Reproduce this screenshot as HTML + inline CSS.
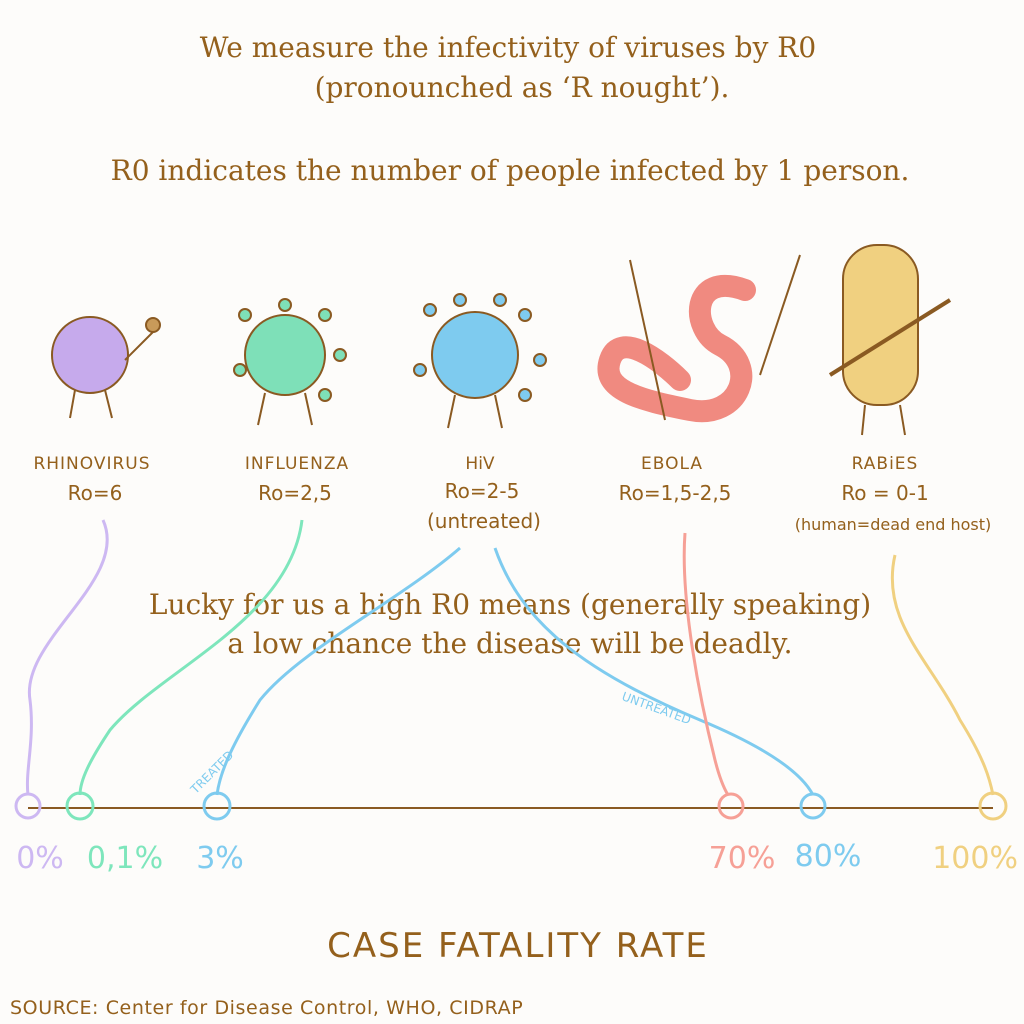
<!DOCTYPE html>
<html><head><meta charset="utf-8"><style>
html,body{margin:0;padding:0;background:#fdfcfa;}
svg{display:block}
.t{font-family:"DejaVu Serif","Liberation Serif",serif;fill:#94601c;font-size:28px;text-anchor:middle}
.h{font-family:"DejaVu Sans","Liberation Sans",sans-serif;fill:#94601c;text-anchor:middle}
</style></head><body>
<svg width="1024" height="1024" viewBox="0 0 1024 1024">
<rect width="1024" height="1024" fill="#fdfcfa"/>
<text class="t" x="508" y="57">We measure the infectivity of viruses by R0</text>
<text class="t" x="522" y="97">(pronounched as ‘R nought’).</text>
<text class="t" x="510" y="180">R0 indicates the number of people infected by 1 person.</text>
<text class="t" x="510" y="614">Lucky for us a high R0 means (generally speaking)</text>
<text class="t" x="510" y="653">a low chance the disease will be deadly.</text>

<!-- creatures -->
<g stroke="#8a5a22" stroke-width="2">
<circle cx="90" cy="355" r="38" fill="#c6aaec"/>
<line x1="125" y1="360" x2="155" y2="330"/><circle cx="153" cy="325" r="7" fill="#c89a5a"/>
<line x1="75" y1="390" x2="70" y2="418"/><line x1="105" y1="390" x2="112" y2="418"/>
<g fill="#7ee0b8"><circle cx="285" cy="355" r="40"/>
<circle cx="245" cy="315" r="6"/><circle cx="285" cy="305" r="6"/><circle cx="325" cy="315" r="6"/><circle cx="340" cy="355" r="6"/><circle cx="325" cy="395" r="6"/><circle cx="240" cy="370" r="6"/></g>
<line x1="265" y1="393" x2="258" y2="425"/><line x1="305" y1="393" x2="312" y2="425"/>
<g fill="#7ecbef"><circle cx="475" cy="355" r="43"/>
<circle cx="430" cy="310" r="6"/><circle cx="460" cy="300" r="6"/><circle cx="500" cy="300" r="6"/><circle cx="525" cy="315" r="6"/><circle cx="540" cy="360" r="6"/><circle cx="420" cy="370" r="6"/><circle cx="525" cy="395" r="6"/></g>
<line x1="455" y1="395" x2="448" y2="428"/><line x1="495" y1="395" x2="502" y2="428"/>
<path d="M745 290 C 690 270 690 330 720 345 C 760 365 740 420 690 410 C 640 400 600 390 610 360 C 620 330 660 360 680 380" fill="none" stroke="#f08a80" stroke-width="22" stroke-linecap="round"/>
<line x1="630" y1="260" x2="665" y2="420"/><line x1="800" y1="255" x2="760" y2="375"/>
<rect x="843" y="245" width="75" height="160" rx="34" fill="#f0d080"/>
<line x1="830" y1="375" x2="950" y2="300" stroke-width="4"/>
<line x1="865" y1="405" x2="862" y2="435"/><line x1="900" y1="405" x2="905" y2="435"/>
</g>

<!-- labels -->
<g class="h" font-size="17">
<text x="92" y="469" letter-spacing="1">RHINOVIRUS</text>
<text x="95" y="500" font-size="20">Ro=6</text>
<text x="297" y="469" letter-spacing="1">INFLUENZA</text>
<text x="295" y="500" font-size="20">Ro=2,5</text>
<text x="480" y="469">HiV</text>
<text x="482" y="498" font-size="20">Ro=2-5</text>
<text x="484" y="528" font-size="20">(untreated)</text>
<text x="672" y="469" letter-spacing="1">EBOLA</text>
<text x="675" y="500" font-size="20">Ro=1,5-2,5</text>
<text x="885" y="469" letter-spacing="1">RABiES</text>
<text x="885" y="500" font-size="20">Ro = 0-1</text>
<text x="893" y="530" font-size="16">(human=dead end host)</text>
</g>

<!-- curves -->
<g fill="none" stroke-width="3">
<path d="M103 520 C 130 580 20 640 30 700 C 35 740 25 770 28 795" stroke="#cdb8f2"/>
<path d="M302 520 C 290 620 160 670 110 730 C 90 760 80 780 80 795" stroke="#7ee6bc"/>
<path d="M460 548 C 400 600 300 650 260 700 C 235 740 220 770 217 795" stroke="#7ecbef"/>
<path d="M495 548 C 520 620 580 670 700 720 C 760 745 800 770 813 795" stroke="#7ecbef"/>
<path d="M685 533 C 680 600 700 700 715 760 C 720 780 725 790 728 795" stroke="#f6a096"/>
<path d="M895 555 C 880 620 930 660 960 720 C 985 760 990 780 993 795" stroke="#f0d080"/>
</g>
<text class="h" font-size="12" style="fill:#7ecbef" transform="translate(215 775) rotate(-45)">TREATED</text>
<text class="h" font-size="12" style="fill:#7ecbef" transform="translate(655 712) rotate(20)">UNTREATED</text>

<!-- axis -->
<line x1="28" y1="808" x2="993" y2="808" stroke="#8a5a22" stroke-width="2"/>
<g fill="none" stroke-width="3">
<circle cx="28" cy="806" r="12" stroke="#cdb8f2"/>
<circle cx="80" cy="806" r="13" stroke="#7ee6bc"/>
<circle cx="217" cy="806" r="13" stroke="#7ecbef"/>
<circle cx="731" cy="806" r="12" stroke="#f6a096"/>
<circle cx="813" cy="806" r="12" stroke="#7ecbef"/>
<circle cx="993" cy="806" r="13" stroke="#f0d080"/>
</g>
<g class="h" font-size="30">
<text x="40" y="868" style="fill:#cdb8f2">0%</text>
<text x="125" y="868" style="fill:#7ee6bc">0,1%</text>
<text x="220" y="868" style="fill:#7ecbef">3%</text>
<text x="742" y="868" style="fill:#f6a096">70%</text>
<text x="828" y="866" style="fill:#7ecbef">80%</text>
<text x="1018" y="868" style="fill:#f0d080;text-anchor:end">100%</text>
</g>
<text class="h" x="518" y="957" font-size="34" letter-spacing="2">CASE FATALITY RATE</text>
<text class="h" x="10" y="1014" font-size="19" letter-spacing="0.6" style="text-anchor:start">SOURCE: Center for Disease Control, WHO, CIDRAP</text>
</svg>
</body></html>
